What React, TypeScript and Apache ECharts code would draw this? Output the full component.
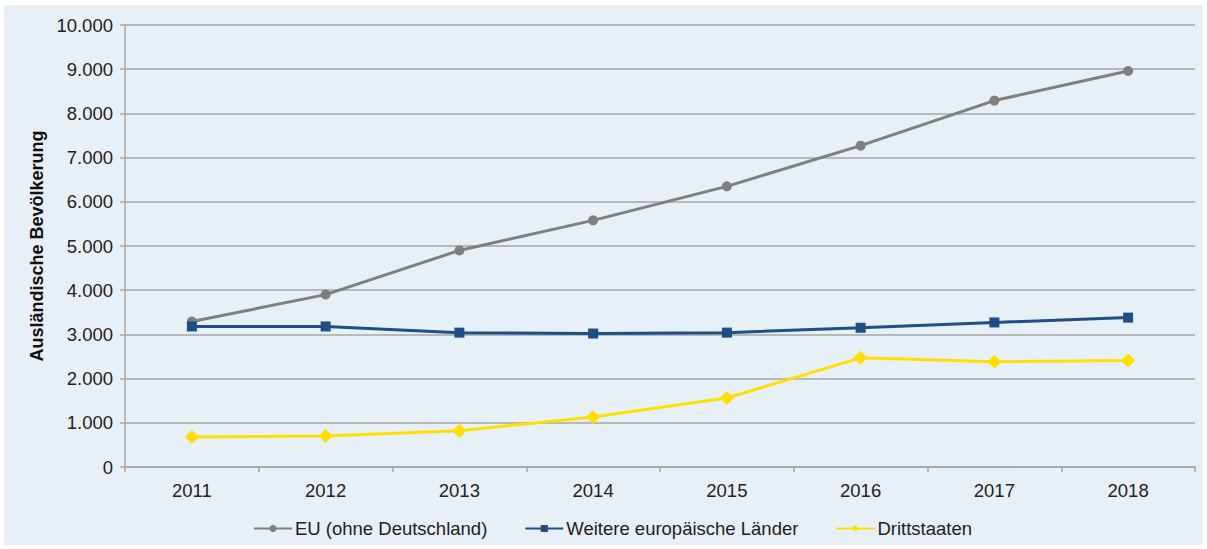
import React, { useEffect, useRef } from "react";
import * as echarts from "echarts";

const years = ["2011", "2012", "2013", "2014", "2015", "2016", "2017", "2018"];
const euValues = [3290, 3900, 4900, 5580, 6350, 7270, 8290, 8960];
const weitereValues = [3180, 3180, 3040, 3020, 3040, 3150, 3270, 3380];
const drittValues = [680, 700, 820, 1130, 1560, 2470, 2380, 2410];

const FONT = "'Liberation Sans', Arial, sans-serif";

export default function App() {
  const ref = useRef<HTMLDivElement>(null);
  useEffect(() => {
    if (!ref.current) return;
    const chart = echarts.init(ref.current, undefined, { renderer: "svg" });
    const fmt = (v: number) => String(v).replace(/\B(?=(\d{3})+(?!\d))/g, ".");
    chart.setOption({
      animation: false,
      backgroundColor: "transparent",
      textStyle: { fontFamily: FONT },
      grid: { left: 121, right: 8, top: 20, bottom: 78, containLabel: false },
      legend: {
        bottom: 2,
        left: 244,
        itemWidth: 38,
        itemHeight: 9,
        itemGap: 37,
        textStyle: { fontSize: 18.5, color: "#222", fontFamily: FONT, padding: [0, 0, 0, -2] },
        data: ["EU (ohne Deutschland)", "Weitere europäische Länder", "Drittstaaten"],
      },
      xAxis: {
        type: "category",
        data: years,
        boundaryGap: true,
        axisLine: { lineStyle: { color: "#a6a6a6", width: 1.5 } },
        axisTick: { show: true, length: 5, alignWithLabel: false, lineStyle: { color: "#a6a6a6", width: 1.5 } },
        axisLabel: { fontSize: 18.5, color: "#222", margin: 14, fontFamily: FONT },
      },
      yAxis: {
        type: "value",
        min: 0,
        max: 10000,
        interval: 1000,
        name: "Ausländische Bevölkerung",
        nameLocation: "middle",
        nameRotate: 90,
        nameGap: 77,
        nameTextStyle: { fontSize: 18, fontWeight: "bold", color: "#111", fontFamily: FONT },
        axisLine: { show: true, lineStyle: { color: "#a6a6a6", width: 1.5 } },
        axisTick: { show: true, length: 5, lineStyle: { color: "#a6a6a6", width: 1.5 } },
        axisLabel: { fontSize: 18.5, color: "#222", margin: 12, formatter: fmt, fontFamily: FONT },
        splitLine: { lineStyle: { color: "#a6a6a6", width: 1.5 } },
      },
      series: [
        {
          name: "EU (ohne Deutschland)",
          type: "line",
          data: euValues,
          symbol: "circle",
          symbolSize: 10,
          itemStyle: { color: "#7f7f7f" },
          lineStyle: { color: "#7f7f7f", width: 3 },
        },
        {
          name: "Weitere europäische Länder",
          type: "line",
          data: weitereValues,
          symbol: "rect",
          symbolSize: 10,
          itemStyle: { color: "#1f4e84" },
          lineStyle: { color: "#1f4e84", width: 3 },
        },
        {
          name: "Drittstaaten",
          type: "line",
          data: drittValues,
          symbol: "diamond",
          symbolSize: 14,
          itemStyle: { color: "#ffdf00" },
          lineStyle: { color: "#ffdf00", width: 3 },
        },
      ],
    });
    return () => chart.dispose();
  }, []);
  return (
    <div style={{ position: "fixed", left: 0, top: 0, width: 1207, height: 549, background: "#ffffff" }}>
      <div
        style={{ position: "absolute", left: 4, top: 5, width: 1199, height: 540, background: "#e8f0f7" }}
      >
        <div ref={ref} style={{ width: 1199, height: 540 }} />
      </div>
    </div>
  );
}
